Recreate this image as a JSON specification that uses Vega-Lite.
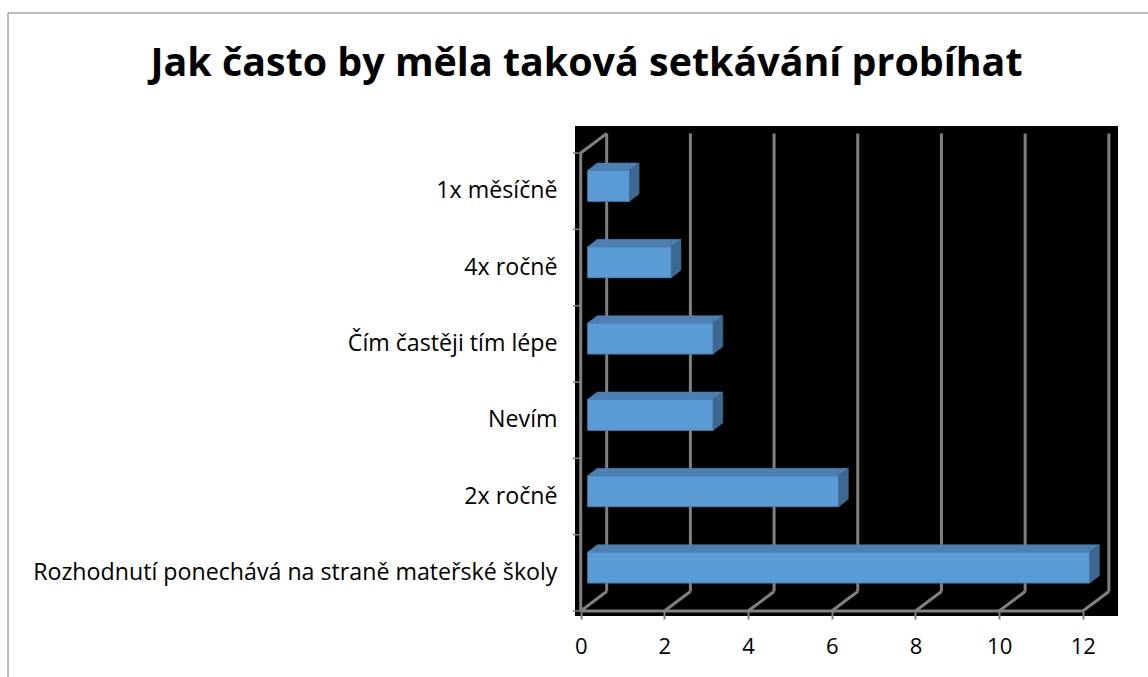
{
  "$schema": "https://vega.github.io/schema/vega-lite/v6.json",
  "width": 543,
  "height": 490,
  "autosize": "none",
  "padding": {"left": 575, "top": 126, "right": 30, "bottom": 61},
  "background": "white",
  "config": {"view": {"fill": "#000000", "stroke": null}},
  "title": {
    "text": "Jak často by měla taková setkávání probíhat",
    "font": "Open Sans",
    "fontSize": 39.4,
    "fontWeight": "bold",
    "color": "#000000",
    "anchor": "middle",
    "frame": "group",
    "baseline": "alphabetic",
    "dx": -260,
    "offset": -103.2
  },
  "datasets": {
    "answers": [
      {"kategorie": "1x měsíčně", "pocet": 1},
      {"kategorie": "4x ročně", "pocet": 2},
      {"kategorie": "Čím častěji tím lépe", "pocet": 3},
      {"kategorie": "Nevím", "pocet": 3},
      {"kategorie": "2x ročně", "pocet": 6},
      {"kategorie": "Rozhodnutí ponechává na straně mateřské školy", "pocet": 12}
    ],
    "grid": [{"v": 0}, {"v": 2}, {"v": 4}, {"v": 6}, {"v": 8}, {"v": 10}, {"v": 12}],
    "levels": [{"u": 0}, {"u": 1}, {"u": 2}, {"u": 3}, {"u": 4}, {"u": 5}, {"u": 6}],
    "one": [{}]
  },
  "layer": [
    {
      "layer": [
        {
          "data": {"name": "grid"},
          "mark": {"type": "rule", "color": "#808080", "strokeWidth": 3, "xOffset": 26, "yOffset": -19.5, "y2Offset": -19.5},
          "encoding": {
            "x": {"field": "v", "type": "quantitative", "title": null, "scale": {"domain": [-0.136, 12.84], "nice": false, "zero": false},
              "axis": {"values": [0, 2, 4, 6, 8, 10, 12], "orient": "bottom", "offset": -5, "domain": false, "grid": false, "tickSize": 8, "tickColor": "#808080", "tickWidth": 2, "labelFont": "Open Sans", "labelFontSize": 22, "labelColor": "#000000", "labelPadding": 17, "labelFlush": false, "title": null}},
            "y": {"datum": 0, "type": "quantitative", "scale": {"domain": [-0.0655, 6.354], "nice": false, "zero": false}, "axis": null},
            "y2": {"datum": 6}
          }
        },
        {
          "data": {"name": "grid"},
          "mark": {"type": "rule", "color": "#808080", "strokeWidth": 3, "x2Offset": 26, "y2Offset": -19.5},
          "encoding": {
            "x": {"field": "v", "type": "quantitative", "title": null, "scale": {"domain": [-0.136, 12.84], "nice": false, "zero": false},
              "axis": {"values": [0, 2, 4, 6, 8, 10, 12], "orient": "bottom", "offset": -5, "domain": false, "grid": false, "tickSize": 8, "tickColor": "#808080", "tickWidth": 2, "labelFont": "Open Sans", "labelFontSize": 22, "labelColor": "#000000", "labelPadding": 17, "labelFlush": false, "title": null}},
            "x2": {"field": "v"},
            "y": {"datum": 0, "type": "quantitative", "scale": {"domain": [-0.0655, 6.354], "nice": false, "zero": false}, "axis": null},
            "y2": {"datum": 0}
          }
        },
        {
          "data": {"name": "one"},
          "mark": {"type": "rule", "color": "#808080", "strokeWidth": 3},
          "encoding": {
            "x": {"datum": 0, "type": "quantitative", "title": null, "scale": {"domain": [-0.136, 12.84], "nice": false, "zero": false},
              "axis": {"values": [0, 2, 4, 6, 8, 10, 12], "orient": "bottom", "offset": -5, "domain": false, "grid": false, "tickSize": 8, "tickColor": "#808080", "tickWidth": 2, "labelFont": "Open Sans", "labelFontSize": 22, "labelColor": "#000000", "labelPadding": 17, "labelFlush": false, "title": null}},
            "x2": {"datum": 12},
            "y": {"datum": 0, "type": "quantitative", "scale": {"domain": [-0.0655, 6.354], "nice": false, "zero": false}, "axis": null}
          }
        },
        {
          "data": {"name": "one"},
          "mark": {"type": "rule", "color": "#808080", "strokeWidth": 3},
          "encoding": {
            "x": {"datum": 0, "type": "quantitative", "title": null, "scale": {"domain": [-0.136, 12.84], "nice": false, "zero": false},
              "axis": {"values": [0, 2, 4, 6, 8, 10, 12], "orient": "bottom", "offset": -5, "domain": false, "grid": false, "tickSize": 8, "tickColor": "#808080", "tickWidth": 2, "labelFont": "Open Sans", "labelFontSize": 22, "labelColor": "#000000", "labelPadding": 17, "labelFlush": false, "title": null}},
            "y": {"datum": 0, "type": "quantitative", "scale": {"domain": [-0.0655, 6.354], "nice": false, "zero": false}, "axis": null},
            "y2": {"datum": 6}
          }
        },
        {
          "data": {"name": "one"},
          "mark": {"type": "rule", "color": "#808080", "strokeWidth": 3, "x2Offset": 26, "y2Offset": -19.5},
          "encoding": {
            "x": {"datum": 0, "type": "quantitative", "title": null, "scale": {"domain": [-0.136, 12.84], "nice": false, "zero": false},
              "axis": {"values": [0, 2, 4, 6, 8, 10, 12], "orient": "bottom", "offset": -5, "domain": false, "grid": false, "tickSize": 8, "tickColor": "#808080", "tickWidth": 2, "labelFont": "Open Sans", "labelFontSize": 22, "labelColor": "#000000", "labelPadding": 17, "labelFlush": false, "title": null}},
            "x2": {"datum": 0},
            "y": {"datum": 6, "type": "quantitative", "scale": {"domain": [-0.0655, 6.354], "nice": false, "zero": false}, "axis": null},
            "y2": {"datum": 6}
          }
        },
        {
          "data": {"name": "levels"},
          "mark": {"type": "rule", "color": "#808080", "strokeWidth": 1.5},
          "encoding": {
            "x": {"datum": -0.19, "type": "quantitative", "title": null, "scale": {"domain": [-0.136, 12.84], "nice": false, "zero": false},
              "axis": {"values": [0, 2, 4, 6, 8, 10, 12], "orient": "bottom", "offset": -5, "domain": false, "grid": false, "tickSize": 8, "tickColor": "#808080", "tickWidth": 2, "labelFont": "Open Sans", "labelFontSize": 22, "labelColor": "#000000", "labelPadding": 17, "labelFlush": false, "title": null}},
            "x2": {"datum": 0},
            "y": {"field": "u", "type": "quantitative", "scale": {"domain": [-0.0655, 6.354], "nice": false, "zero": false}, "axis": null}
          }
        },
        {
          "data": {"name": "one"},
          "mark": {"type": "rule", "color": "#a6a6a6", "strokeWidth": 1.5},
          "encoding": {
            "x": {"datum": -13.685, "type": "quantitative", "title": null, "scale": {"domain": [-0.136, 12.84], "nice": false, "zero": false},
              "axis": {"values": [0, 2, 4, 6, 8, 10, 12], "orient": "bottom", "offset": -5, "domain": false, "grid": false, "tickSize": 8, "tickColor": "#808080", "tickWidth": 2, "labelFont": "Open Sans", "labelFontSize": 22, "labelColor": "#000000", "labelPadding": 17, "labelFlush": false, "title": null}},
            "x2": {"datum": 13.6},
            "y": {"datum": 7.834, "type": "quantitative", "scale": {"domain": [-0.0655, 6.354], "nice": false, "zero": false}, "axis": null}
          }
        },
        {
          "data": {"name": "one"},
          "mark": {"type": "rule", "color": "#a6a6a6", "strokeWidth": 1.5},
          "encoding": {
            "x": {"datum": -13.685, "type": "quantitative", "title": null, "scale": {"domain": [-0.136, 12.84], "nice": false, "zero": false},
              "axis": {"values": [0, 2, 4, 6, 8, 10, 12], "orient": "bottom", "offset": -5, "domain": false, "grid": false, "tickSize": 8, "tickColor": "#808080", "tickWidth": 2, "labelFont": "Open Sans", "labelFontSize": 22, "labelColor": "#000000", "labelPadding": 17, "labelFlush": false, "title": null}},
            "y": {"datum": 7.834, "type": "quantitative", "scale": {"domain": [-0.0655, 6.354], "nice": false, "zero": false}, "axis": null},
            "y2": {"datum": -0.95}
          }
        }
      ]
    },
    {
      "data": {"name": "answers"},
      "encoding": {
        "y": {
          "field": "kategorie",
          "type": "nominal",
          "sort": ["1x měsíčně", "4x ročně", "Čím častěji tím lépe", "Nevím", "2x ročně", "Rozhodnutí ponechává na straně mateřské školy"],
          "scale": {"domain": ["1x měsíčně", "4x ročně", "Čím častěji tím lépe", "Nevím", "2x ročně", "Rozhodnutí ponechává na straně mateřské školy"], "paddingInner": 0, "paddingOuter": 0.2096, "align": 0.844},
          "axis": {"orient": "left", "ticks": false, "domain": false, "grid": false, "labelFont": "Open Sans", "labelFontSize": 23.2, "labelColor": "#000000", "labelPadding": 18, "labelLimit": 1000, "title": null}
        }
      },
      "layer": [
        {
          "mark": {"type": "bar", "fill": "#5b9bd5", "stroke": "#4a7fb2", "strokeWidth": 1, "height": 31, "yOffset": -5.3, "xOffset": 7, "x2Offset": 7},
          "encoding": {
            "x": {"field": "pocet", "type": "quantitative", "title": null, "scale": {"domain": [-0.136, 12.84], "nice": false, "zero": false},
              "axis": {"values": [0, 2, 4, 6, 8, 10, 12], "orient": "bottom", "offset": -5, "domain": false, "grid": false, "tickSize": 8, "tickColor": "#808080", "tickWidth": 2, "labelFont": "Open Sans", "labelFontSize": 22, "labelColor": "#000000", "labelPadding": 17, "labelFlush": false, "title": null}},
            "x2": {"datum": 0}
          }
        },
        {
          "mark": {"type": "bar", "fill": "#4d80b3", "stroke": "#4d80b3", "strokeWidth": 0.5, "height": 7.4, "yOffset": -24.5, "xOffset": 7, "x2Offset": 16.6},
          "encoding": {
            "x": {"field": "pocet", "type": "quantitative", "title": null, "scale": {"domain": [-0.136, 12.84], "nice": false, "zero": false},
              "axis": {"values": [0, 2, 4, 6, 8, 10, 12], "orient": "bottom", "offset": -5, "domain": false, "grid": false, "tickSize": 8, "tickColor": "#808080", "tickWidth": 2, "labelFont": "Open Sans", "labelFontSize": 22, "labelColor": "#000000", "labelPadding": 17, "labelFlush": false, "title": null}},
            "x2": {"datum": 0}
          }
        },
        {
          "mark": {"type": "point", "shape": "M0,-20.8L9.6,-28.2L9.6,-20.8Z", "size": 4, "filled": true, "opacity": 1, "fill": "#4d80b3", "stroke": "#4d80b3", "strokeWidth": 0.5, "xOffset": 7},
          "encoding": {
            "x": {"datum": 0, "type": "quantitative", "title": null, "scale": {"domain": [-0.136, 12.84], "nice": false, "zero": false},
              "axis": {"values": [0, 2, 4, 6, 8, 10, 12], "orient": "bottom", "offset": -5, "domain": false, "grid": false, "tickSize": 8, "tickColor": "#808080", "tickWidth": 2, "labelFont": "Open Sans", "labelFontSize": 22, "labelColor": "#000000", "labelPadding": 17, "labelFlush": false, "title": null}}
          }
        },
        {
          "mark": {"type": "point", "shape": "M0,-20.8L0,-28.2L9.6,-28.2Z", "size": 4, "filled": true, "opacity": 1, "fill": "#4d80b3", "stroke": "#4d80b3", "strokeWidth": 0.5, "xOffset": 7},
          "encoding": {
            "x": {"field": "pocet", "type": "quantitative", "title": null, "scale": {"domain": [-0.136, 12.84], "nice": false, "zero": false},
              "axis": {"values": [0, 2, 4, 6, 8, 10, 12], "orient": "bottom", "offset": -5, "domain": false, "grid": false, "tickSize": 8, "tickColor": "#808080", "tickWidth": 2, "labelFont": "Open Sans", "labelFontSize": 22, "labelColor": "#000000", "labelPadding": 17, "labelFlush": false, "title": null}}
          }
        },
        {
          "mark": {"type": "point", "shape": "M0,-20.8L9.6,-28.2L9.6,2.8L0,10.2Z", "size": 4, "filled": true, "opacity": 1, "fill": "#3d6891", "stroke": "#3d6891", "strokeWidth": 0.5, "xOffset": 7},
          "encoding": {
            "x": {"field": "pocet", "type": "quantitative", "title": null, "scale": {"domain": [-0.136, 12.84], "nice": false, "zero": false},
              "axis": {"values": [0, 2, 4, 6, 8, 10, 12], "orient": "bottom", "offset": -5, "domain": false, "grid": false, "tickSize": 8, "tickColor": "#808080", "tickWidth": 2, "labelFont": "Open Sans", "labelFontSize": 22, "labelColor": "#000000", "labelPadding": 17, "labelFlush": false, "title": null}}
          }
        }
      ]
    }
  ],
  "resolve": {"scale": {"y": "independent"}}
}
